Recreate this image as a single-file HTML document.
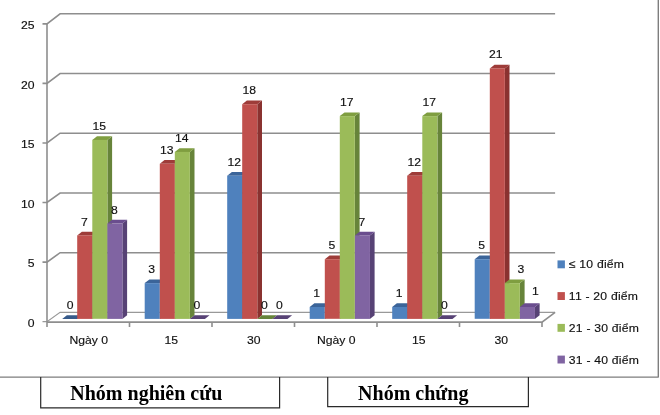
<!DOCTYPE html>
<html><head><meta charset="utf-8"><title>Chart</title>
<style>
html,body{margin:0;padding:0;background:#fff}
body{width:660px;height:415px;position:relative;overflow:hidden;font-family:"Liberation Sans",sans-serif}
svg .t{font-family:"Liberation Sans",sans-serif;font-size:11.4px;fill:#111;stroke:#111;stroke-width:0.15px}
svg .b{font-family:"Liberation Serif",serif;font-weight:bold;font-size:20px;fill:#000}
</style></head><body>
<svg width="660" height="415" viewBox="0 0 660 415" style="position:absolute;left:0;top:0">
<g fill="none" stroke="#8e8e8e" stroke-width="1.6">
<path d="M42.5 321.6H47.0L60.1 312.4H555.1" stroke-width="1.15" stroke="#999"/>
<path d="M42.5 262.1H47.0L60.1 252.7H555.1"/>
<path d="M42.5 202.5H47.0L60.1 193.0H555.1"/>
<path d="M42.5 143.0H47.0L60.1 133.2H555.1"/>
<path d="M42.5 83.4H47.0L60.1 73.5H555.1"/>
<path d="M42.5 23.9H47.0L60.1 13.8H555.1"/>
<path d="M47.0 24.1V327"/>
<path d="M47.0 322.1H542.0L555.1 312.4" />
<path d="M129.5 322.1V327"/>
<path d="M212.0 322.1V327"/>
<path d="M294.5 322.1V327"/>
<path d="M377.0 322.1V327"/>
<path d="M459.5 322.1V327"/>
<path d="M542.0 322.1V327"/>
</g>
<path d="M62.2 318.9l4.7 -3.7h15.05l-4.7 3.7z" fill="#365A8A"/>
<path d="M92.3 318.9l4.7 -3.7V231.7l-4.7 3.7z" fill="#8A3230"/>
<path d="M77.2 235.4l4.7 -3.7h15.05l-4.7 3.7z" fill="#9E3C39"/>
<rect x="77.2" y="235.4" width="15.05" height="83.5" fill="#C0504D"/>
<path d="M107.4 318.9l4.7 -3.7V136.2l-4.7 3.7z" fill="#67843A"/>
<path d="M92.3 139.9l4.7 -3.7h15.05l-4.7 3.7z" fill="#7F9E40"/>
<rect x="92.3" y="139.9" width="15.05" height="178.9" fill="#9BBB59"/>
<path d="M122.4 318.9l4.7 -3.7V219.8l-4.7 3.7z" fill="#574275"/>
<path d="M107.4 223.5l4.7 -3.7h15.05l-4.7 3.7z" fill="#6A4D8E"/>
<rect x="107.4" y="223.5" width="15.05" height="95.4" fill="#8064A2"/>
<path d="M159.8 318.9l4.7 -3.7V279.4l-4.7 3.7z" fill="#365A8A"/>
<path d="M144.7 283.1l4.7 -3.7h15.05l-4.7 3.7z" fill="#3B6499"/>
<rect x="144.7" y="283.1" width="15.05" height="35.8" fill="#4F81BD"/>
<path d="M174.8 318.9l4.7 -3.7V160.1l-4.7 3.7z" fill="#8A3230"/>
<path d="M159.8 163.8l4.7 -3.7h15.05l-4.7 3.7z" fill="#9E3C39"/>
<rect x="159.8" y="163.8" width="15.05" height="155.1" fill="#C0504D"/>
<path d="M189.8 318.9l4.7 -3.7V148.2l-4.7 3.7z" fill="#67843A"/>
<path d="M174.8 151.9l4.7 -3.7h15.05l-4.7 3.7z" fill="#7F9E40"/>
<rect x="174.8" y="151.9" width="15.05" height="167.0" fill="#9BBB59"/>
<path d="M189.8 318.9l4.7 -3.7h15.05l-4.7 3.7z" fill="#574275"/>
<path d="M242.2 318.9l4.7 -3.7V172.0l-4.7 3.7z" fill="#365A8A"/>
<path d="M227.2 175.7l4.7 -3.7h15.05l-4.7 3.7z" fill="#3B6499"/>
<rect x="227.2" y="175.7" width="15.05" height="143.2" fill="#4F81BD"/>
<path d="M257.3 318.9l4.7 -3.7V100.5l-4.7 3.7z" fill="#8A3230"/>
<path d="M242.2 104.2l4.7 -3.7h15.05l-4.7 3.7z" fill="#9E3C39"/>
<rect x="242.2" y="104.2" width="15.05" height="214.7" fill="#C0504D"/>
<path d="M257.3 318.9l4.7 -3.7h15.05l-4.7 3.7z" fill="#67843A"/>
<path d="M272.4 318.9l4.7 -3.7h15.05l-4.7 3.7z" fill="#574275"/>
<path d="M324.8 318.9l4.7 -3.7V303.3l-4.7 3.7z" fill="#365A8A"/>
<path d="M309.7 307.0l4.7 -3.7h15.05l-4.7 3.7z" fill="#3B6499"/>
<rect x="309.7" y="307.0" width="15.05" height="11.9" fill="#4F81BD"/>
<path d="M339.8 318.9l4.7 -3.7V255.6l-4.7 3.7z" fill="#8A3230"/>
<path d="M324.8 259.2l4.7 -3.7h15.05l-4.7 3.7z" fill="#9E3C39"/>
<rect x="324.8" y="259.2" width="15.05" height="59.6" fill="#C0504D"/>
<path d="M354.9 318.9l4.7 -3.7V112.4l-4.7 3.7z" fill="#67843A"/>
<path d="M339.8 116.1l4.7 -3.7h15.05l-4.7 3.7z" fill="#7F9E40"/>
<rect x="339.8" y="116.1" width="15.05" height="202.8" fill="#9BBB59"/>
<path d="M369.9 318.9l4.7 -3.7V231.7l-4.7 3.7z" fill="#574275"/>
<path d="M354.9 235.4l4.7 -3.7h15.05l-4.7 3.7z" fill="#6A4D8E"/>
<rect x="354.9" y="235.4" width="15.05" height="83.5" fill="#8064A2"/>
<path d="M407.2 318.9l4.7 -3.7V303.3l-4.7 3.7z" fill="#365A8A"/>
<path d="M392.2 307.0l4.7 -3.7h15.05l-4.7 3.7z" fill="#3B6499"/>
<rect x="392.2" y="307.0" width="15.05" height="11.9" fill="#4F81BD"/>
<path d="M422.3 318.9l4.7 -3.7V172.0l-4.7 3.7z" fill="#8A3230"/>
<path d="M407.2 175.7l4.7 -3.7h15.05l-4.7 3.7z" fill="#9E3C39"/>
<rect x="407.2" y="175.7" width="15.05" height="143.2" fill="#C0504D"/>
<path d="M437.4 318.9l4.7 -3.7V112.4l-4.7 3.7z" fill="#67843A"/>
<path d="M422.3 116.1l4.7 -3.7h15.05l-4.7 3.7z" fill="#7F9E40"/>
<rect x="422.3" y="116.1" width="15.05" height="202.8" fill="#9BBB59"/>
<path d="M437.4 318.9l4.7 -3.7h15.05l-4.7 3.7z" fill="#574275"/>
<path d="M489.8 318.9l4.7 -3.7V255.6l-4.7 3.7z" fill="#365A8A"/>
<path d="M474.7 259.2l4.7 -3.7h15.05l-4.7 3.7z" fill="#3B6499"/>
<rect x="474.7" y="259.2" width="15.05" height="59.6" fill="#4F81BD"/>
<path d="M504.8 318.9l4.7 -3.7V64.7l-4.7 3.7z" fill="#8A3230"/>
<path d="M489.8 68.4l4.7 -3.7h15.05l-4.7 3.7z" fill="#9E3C39"/>
<rect x="489.8" y="68.4" width="15.05" height="250.5" fill="#C0504D"/>
<path d="M519.9 318.9l4.7 -3.7V279.4l-4.7 3.7z" fill="#67843A"/>
<path d="M504.8 283.1l4.7 -3.7h15.05l-4.7 3.7z" fill="#7F9E40"/>
<rect x="504.8" y="283.1" width="15.05" height="35.8" fill="#9BBB59"/>
<path d="M534.9 318.9l4.7 -3.7V303.3l-4.7 3.7z" fill="#574275"/>
<path d="M519.9 307.0l4.7 -3.7h15.05l-4.7 3.7z" fill="#6A4D8E"/>
<rect x="519.9" y="307.0" width="15.05" height="11.9" fill="#8064A2"/>
<rect x="557.5" y="260.4" width="7.4" height="7.9" fill="#4F81BD"/>
<text transform="translate(568.8 268.4) scale(1.07 1)" class="t" style="letter-spacing:0.2px">≤ 10 điểm</text>
<rect x="557.5" y="292.1" width="7.4" height="7.9" fill="#C0504D"/>
<text transform="translate(568.8 300.1) scale(1.07 1)" class="t" style="letter-spacing:0.2px">11 - 20 điểm</text>
<rect x="557.5" y="323.9" width="7.4" height="7.9" fill="#9BBB59"/>
<text transform="translate(568.8 331.9) scale(1.07 1)" class="t" style="letter-spacing:0.2px">21 - 30 điểm</text>
<rect x="557.5" y="355.6" width="7.4" height="7.9" fill="#8064A2"/>
<text transform="translate(568.8 363.6) scale(1.07 1)" class="t" style="letter-spacing:0.2px">31 - 40 điểm</text>
<text transform="translate(34.5 326.6) scale(1.07 1)" class="t" text-anchor="end">0</text>
<text transform="translate(34.5 267.1) scale(1.07 1)" class="t" text-anchor="end">5</text>
<text transform="translate(34.5 207.6) scale(1.07 1)" class="t" text-anchor="end">10</text>
<text transform="translate(34.5 148.1) scale(1.07 1)" class="t" text-anchor="end">15</text>
<text transform="translate(34.5 88.6) scale(1.07 1)" class="t" text-anchor="end">20</text>
<text transform="translate(34.5 29.1) scale(1.07 1)" class="t" text-anchor="end">25</text>
<text transform="translate(88.8 344.3) scale(1.07 1)" class="t" text-anchor="middle">Ngày 0</text>
<text transform="translate(171.2 344.3) scale(1.07 1)" class="t" text-anchor="middle">15</text>
<text transform="translate(253.8 344.3) scale(1.07 1)" class="t" text-anchor="middle">30</text>
<text transform="translate(336.2 344.3) scale(1.07 1)" class="t" text-anchor="middle">Ngày 0</text>
<text transform="translate(418.8 344.3) scale(1.07 1)" class="t" text-anchor="middle">15</text>
<text transform="translate(501.2 344.3) scale(1.07 1)" class="t" text-anchor="middle">30</text>
<text transform="translate(70.2 309.1) scale(1.07 1)" class="t" text-anchor="middle">0</text>
<text transform="translate(84.3 225.5) scale(1.07 1)" class="t" text-anchor="middle">7</text>
<text transform="translate(99.3 129.9) scale(1.07 1)" class="t" text-anchor="middle">15</text>
<text transform="translate(114.4 213.5) scale(1.07 1)" class="t" text-anchor="middle">8</text>
<text transform="translate(151.7 273.2) scale(1.07 1)" class="t" text-anchor="middle">3</text>
<text transform="translate(166.8 153.8) scale(1.07 1)" class="t" text-anchor="middle">13</text>
<text transform="translate(181.8 141.8) scale(1.07 1)" class="t" text-anchor="middle">14</text>
<text transform="translate(196.9 309.1) scale(1.07 1)" class="t" text-anchor="middle">0</text>
<text transform="translate(234.2 165.7) scale(1.07 1)" class="t" text-anchor="middle">12</text>
<text transform="translate(249.3 94.0) scale(1.07 1)" class="t" text-anchor="middle">18</text>
<text transform="translate(264.3 309.1) scale(1.07 1)" class="t" text-anchor="middle">0</text>
<text transform="translate(279.4 309.1) scale(1.07 1)" class="t" text-anchor="middle">0</text>
<text transform="translate(316.7 297.2) scale(1.07 1)" class="t" text-anchor="middle">1</text>
<text transform="translate(331.8 249.4) scale(1.07 1)" class="t" text-anchor="middle">5</text>
<text transform="translate(346.8 106.0) scale(1.07 1)" class="t" text-anchor="middle">17</text>
<text transform="translate(361.9 225.5) scale(1.07 1)" class="t" text-anchor="middle">7</text>
<text transform="translate(399.2 297.2) scale(1.07 1)" class="t" text-anchor="middle">1</text>
<text transform="translate(414.3 165.7) scale(1.07 1)" class="t" text-anchor="middle">12</text>
<text transform="translate(429.3 106.0) scale(1.07 1)" class="t" text-anchor="middle">17</text>
<text transform="translate(444.4 309.1) scale(1.07 1)" class="t" text-anchor="middle">0</text>
<text transform="translate(481.7 249.4) scale(1.07 1)" class="t" text-anchor="middle">5</text>
<text transform="translate(495.8 58.2) scale(1.07 1)" class="t" text-anchor="middle">21</text>
<text transform="translate(520.8 273.2) scale(1.07 1)" class="t" text-anchor="middle">3</text>
<text transform="translate(535.5 295.1) scale(1.07 1)" class="t" text-anchor="middle">1</text>
<path d="M0 377.1H658.3V0" fill="none" stroke="#7e7e7e" stroke-width="1.4" stroke-linejoin="round"/>
<path d="M40.7 377V407.8H279.6V377M327.7 377V406.6H528.4V377" fill="none" stroke="#2a2a2a" stroke-width="1.2"/>
<text x="70.3" y="399.6" class="b">Nhóm nghiên cứu</text>
<text x="358.1" y="400" class="b">Nhóm chứng</text>
</svg>
</body></html>
